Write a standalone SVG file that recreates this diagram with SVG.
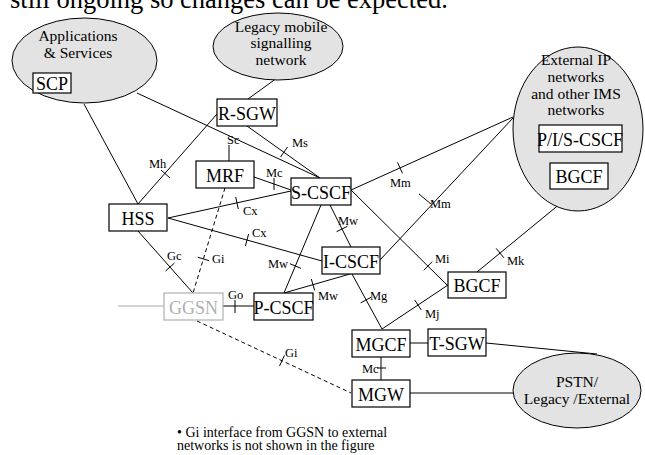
<svg xmlns="http://www.w3.org/2000/svg" width="645" height="455" viewBox="0 0 645 455">
<style>
.t{font-family:"Liberation Serif","Times New Roman",serif;fill:#000}
.n{font-size:18px;text-anchor:middle}
.e{font-size:15.5px;text-anchor:middle}
.l{font-size:12.5px}
.box{fill:#fff;stroke:#000;stroke-width:1.2}
.cloud{fill:#e3e3e3;stroke:#000;stroke-width:1}
#connectors line{stroke:#000;stroke-width:1}
#connectors .d{stroke-dasharray:4 3}
#connectors .g{stroke:#aaa}
</style>
<rect width="645" height="455" fill="#fff"/>
<text class="t" x="10" y="8" font-size="26.5">still ongoing so changes can be expected.</text>

<g id="connectors">
  <line x1="84" y1="104" x2="138" y2="204"/>
  <line x1="137" y1="93" x2="320" y2="178"/>
  <line x1="277" y1="78" x2="248" y2="99"/>
  <line x1="247" y1="126" x2="320" y2="178"/>
  <line x1="287.5" y1="147" x2="280.5" y2="157"/>
  <line x1="138" y1="204" x2="217" y2="114"/>
  <line x1="161" y1="170" x2="170" y2="178"/>
  <line x1="229" y1="145" x2="229" y2="161"/>
  <line x1="254" y1="177" x2="291" y2="190"/>
  <line x1="274" y1="178" x2="274" y2="190"/>
  <line x1="168" y1="218" x2="291" y2="191"/>
  <line x1="235.7" y1="197" x2="238.3" y2="209"/>
  <line x1="168" y1="218" x2="322" y2="261"/>
  <line x1="248.6" y1="234" x2="245.4" y2="246"/>
  <line x1="138" y1="231" x2="193" y2="293"/>
  <line x1="174.5" y1="263" x2="165.5" y2="271"/>
  <line class="d" x1="225" y1="188" x2="193" y2="293"/>
  <line x1="197.7" y1="257.2" x2="209.1" y2="260.7"/>
  <line class="d" x1="197" y1="321" x2="351" y2="393"/>
  <line x1="284.5" y1="355.3" x2="279.5" y2="366.1"/>
  <line class="g" x1="118" y1="306" x2="164" y2="306"/>
  <line x1="223" y1="306" x2="254" y2="306"/>
  <line x1="235" y1="300" x2="235" y2="313"/>
  <line x1="321" y1="205" x2="284" y2="293"/>
  <line x1="289.9" y1="263.7" x2="300.9" y2="268.3"/>
  <line x1="330" y1="205" x2="351" y2="247"/>
  <line x1="347.4" y1="226.3" x2="336.6" y2="231.7"/>
  <line x1="350" y1="274" x2="284" y2="293"/>
  <line x1="311.3" y1="279" x2="314.7" y2="290.5"/>
  <line x1="352" y1="274" x2="382" y2="329"/>
  <line x1="371.3" y1="297.1" x2="360.7" y2="302.9"/>
  <line x1="382" y1="329" x2="448" y2="285"/>
  <line x1="414.7" y1="300" x2="421.3" y2="310"/>
  <line x1="351" y1="190" x2="448" y2="286"/>
  <line x1="432.2" y1="261.7" x2="423.8" y2="270.3"/>
  <line x1="351" y1="190" x2="513" y2="117"/>
  <line x1="397.5" y1="162.4" x2="402.5" y2="173.4"/>
  <line x1="380" y1="260" x2="513" y2="118"/>
  <line x1="419" y1="194" x2="431" y2="204"/>
  <line x1="477" y1="272" x2="578" y2="189"/>
  <line x1="496.2" y1="248.4" x2="503.8" y2="257.7"/>
  <line x1="410" y1="343" x2="428" y2="343"/>
  <line x1="381" y1="357" x2="381" y2="380"/>
  <line x1="377" y1="368" x2="386" y2="368"/>
  <line x1="486" y1="343" x2="597" y2="354"/>
  <line x1="410" y1="393" x2="513" y2="393"/>
  <text class="t l" x="149" y="168">Mh</text>
  <text class="t l" x="292" y="147">Ms</text>
  <text class="t l" x="227" y="144">Sc</text>
  <text class="t l" x="266" y="177">Mc</text>
  <text class="t l" x="243" y="215">Cx</text>
  <text class="t l" x="252" y="237">Cx</text>
  <text class="t l" x="167" y="260">Gc</text>
  <text class="t l" x="212" y="263">Gi</text>
  <text class="t l" x="228" y="299">Go</text>
  <text class="t l" x="268" y="268">Mw</text>
  <text class="t l" x="338" y="225">Mw</text>
  <text class="t l" x="318" y="300">Mw</text>
  <text class="t l" x="370" y="300">Mg</text>
  <text class="t l" x="425" y="318">Mj</text>
  <text class="t l" x="435" y="263">Mi</text>
  <text class="t l" x="390" y="187">Mm</text>
  <text class="t l" x="430" y="208">Mm</text>
  <text class="t l" x="507" y="265">Mk</text>
  <text class="t l" x="285" y="357">Gi</text>
  <text class="t l" x="362" y="373">Mc</text>
</g>

<g id="apps">
  <ellipse class="cloud" cx="84.5" cy="60.5" rx="72.5" ry="42.5"/>
  <text class="t e" x="78" y="41">Applications</text>
  <text class="t e" x="78" y="58">&amp; Services</text>
</g>
<g id="scp">
  <rect class="box" x="33" y="73" width="38" height="20"/>
  <text class="t n" x="52" y="90">SCP</text>
</g>
<g id="legacy">
  <ellipse class="cloud" cx="278" cy="46.5" rx="65" ry="33.5"/>
  <text class="t e" x="281" y="32">Legacy mobile</text>
  <text class="t e" x="281" y="48">signalling</text>
  <text class="t e" x="281" y="65">network</text>
</g>
<g id="external">
  <ellipse class="cloud" cx="578" cy="129" rx="65" ry="82"/>
  <text class="t e" x="576" y="65">External IP</text>
  <text class="t e" x="576" y="82">networks</text>
  <text class="t e" x="576" y="99">and other IMS</text>
  <text class="t e" x="576" y="115">networks</text>
</g>
<g id="pis-cscf">
  <rect class="box" x="539" y="125" width="83" height="27"/>
  <text class="t n" x="580" y="146">P/I/S-CSCF</text>
</g>
<g id="bgcf-ext">
  <rect class="box" x="550" y="163" width="58" height="26"/>
  <text class="t n" x="579" y="183">BGCF</text>
</g>
<g id="r-sgw">
  <rect class="box" x="217" y="99" width="60" height="27"/>
  <text class="t n" x="247" y="120">R-SGW</text>
</g>
<g id="mrf">
  <rect class="box" x="196" y="161" width="58" height="27"/>
  <text class="t n" x="225" y="182">MRF</text>
</g>
<g id="s-cscf">
  <rect class="box" x="291" y="178" width="60" height="27"/>
  <text class="t n" x="321" y="199">S-CSCF</text>
</g>
<g id="hss">
  <rect class="box" x="109" y="204" width="58" height="27"/>
  <text class="t n" x="138" y="225">HSS</text>
</g>
<g id="i-cscf">
  <rect class="box" x="322" y="247" width="58" height="27"/>
  <text class="t n" x="351" y="268">I-CSCF</text>
</g>
<g id="bgcf">
  <rect class="box" x="448" y="272" width="58" height="26"/>
  <text class="t n" x="477" y="292">BGCF</text>
</g>
<g id="ggsn">
  <rect x="164" y="293" width="59" height="27" fill="#fff" stroke="#b0b0b0" stroke-width="1.2"/>
  <text class="t n" x="193.5" y="314" style="fill:#b0b0b0">GGSN</text>
</g>
<g id="p-cscf">
  <rect class="box" x="254" y="293" width="59" height="27"/>
  <text class="t n" x="283.5" y="314">P-CSCF</text>
</g>
<g id="mgcf">
  <rect class="box" x="352" y="330" width="58" height="27"/>
  <text class="t n" x="381" y="351">MGCF</text>
</g>
<g id="t-sgw">
  <rect class="box" x="428" y="329" width="58" height="27"/>
  <text class="t n" x="457" y="350">T-SGW</text>
</g>
<g id="mgw">
  <rect class="box" x="352" y="380" width="58" height="27"/>
  <text class="t n" x="381" y="401">MGW</text>
</g>
<g id="pstn">
  <ellipse class="cloud" cx="577" cy="390.5" rx="64" ry="37.5"/>
  <text class="t e" x="577" y="387">PSTN/</text>
  <text class="t e" x="577" y="404">Legacy /External</text>
</g>
<g id="note">
  <text class="t" x="177" y="436.5" font-size="14">• Gi interface from GGSN to external</text>
  <text class="t" x="177" y="449.5" font-size="14">networks is not shown in the figure</text>
</g>
</svg>
